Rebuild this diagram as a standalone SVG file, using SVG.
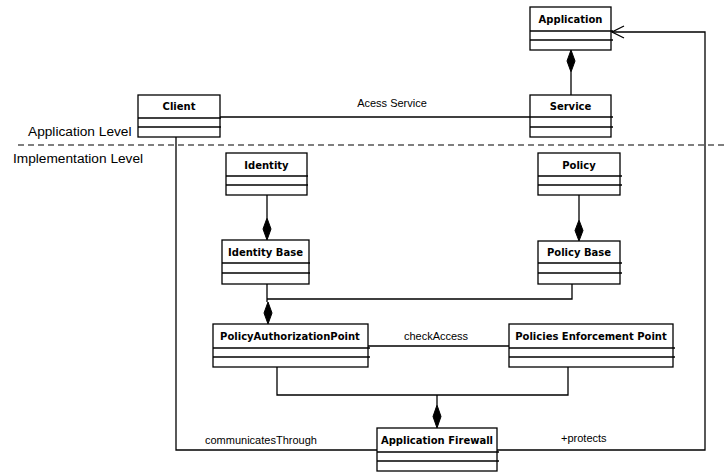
<svg xmlns="http://www.w3.org/2000/svg" width="728" height="472" viewBox="0 0 728 472">
<style>
.box{fill:#fff;stroke:#000;stroke-width:1.3}
.cl{stroke:#000;stroke-width:1.3}
.hd{font-family:"DejaVu Sans",Verdana,sans-serif;font-weight:bold;font-size:10px;text-anchor:middle;fill:#000}
.lb{font-family:"Liberation Sans",Arial,sans-serif;font-size:11px;fill:#000}
.lv{font-family:"Liberation Sans",Arial,sans-serif;font-size:13.7px;fill:#000}
.ln{fill:none;stroke:#000;stroke-width:1.3}
.dm{fill:#000;stroke:#000;stroke-width:1}
</style>
<rect width="728" height="472" fill="#fff"/>
<g id="levels">
<line x1="18" y1="145" x2="728" y2="145" stroke="#000" stroke-width="1.2" stroke-dasharray="6,4"/>
<text class="lv" x="28" y="136">Application Level</text>
<text class="lv" x="13" y="163">Implementation Level</text>
</g>
<g id="connectors">
<polyline class="ln" points="571,72 571,95"/>
<polygon class="dm" points="571,50 575,61 571,72 567,61"/>
<polyline class="ln" points="220,117 530,117"/>
<text class="lb" x="392" y="107" text-anchor="middle">Acess Service</text>
<polyline class="ln" points="267,195 267,218"/>
<polygon class="dm" points="267,218 271,229 267,240 263,229"/>
<polyline class="ln" points="579,195 579,220"/>
<polygon class="dm" points="579,220 583,230.5 579,241 575,230.5"/>
<polyline class="ln" points="267,284 267,302"/>
<polyline class="ln" points="267,299 572,299 572,284"/>
<polygon class="dm" points="268,302 272,313 268,324 264,313"/>
<polyline class="ln" points="368,346 509,346"/>
<text class="lb" x="436" y="340" text-anchor="middle">checkAccess</text>
<polyline class="ln" points="277,367 277,395 568,395 568,367"/>
<polyline class="ln" points="437,395 437,405"/>
<polygon class="dm" points="437,405 441,416.5 437,428 433,416.5"/>
<polyline class="ln" points="176,137 176,450 377,450"/>
<text class="lb" x="205" y="444">communicatesThrough</text>
<polyline class="ln" points="497,450 705,450 705,32 612,32"/>
<polyline class="ln" points="624,26 612,32 624,38"/>
<text class="lb" x="561" y="442">+protects</text>
</g>
<g id="application">
<rect class="box" x="530" y="7" width="81" height="43"/>
<line class="cl" x1="530" y1="31" x2="613" y2="31"/>
<line class="cl" x1="530" y1="40" x2="613" y2="40"/>
<text class="hd" x="570.5" y="23">Application</text>
</g>
<g id="service">
<rect class="box" x="530" y="95" width="81" height="42"/>
<line class="cl" x1="530" y1="117" x2="613" y2="117"/>
<line class="cl" x1="530" y1="127" x2="613" y2="127"/>
<text class="hd" x="570.5" y="110">Service</text>
</g>
<g id="client">
<rect class="box" x="138" y="95" width="82" height="42"/>
<line class="cl" x1="138" y1="118" x2="221" y2="118"/>
<line class="cl" x1="138" y1="127" x2="221" y2="127"/>
<text class="hd" x="179" y="110">Client</text>
</g>
<g id="identity">
<rect class="box" x="226" y="153" width="81" height="42"/>
<line class="cl" x1="226" y1="176" x2="308" y2="176"/>
<line class="cl" x1="226" y1="185" x2="308" y2="185"/>
<text class="hd" x="266.5" y="169">Identity</text>
</g>
<g id="identity-base">
<rect class="box" x="222" y="240" width="87" height="44"/>
<line class="cl" x1="222" y1="263" x2="310" y2="263"/>
<line class="cl" x1="222" y1="273" x2="310" y2="273"/>
<text class="hd" x="265.5" y="256">Identity Base</text>
</g>
<g id="policy">
<rect class="box" x="538" y="153" width="82" height="42"/>
<line class="cl" x1="538" y1="176" x2="622" y2="176"/>
<line class="cl" x1="538" y1="185" x2="622" y2="185"/>
<text class="hd" x="579" y="169">Policy</text>
</g>
<g id="policy-base">
<rect class="box" x="538" y="241" width="82" height="43"/>
<line class="cl" x1="538" y1="263" x2="622" y2="263"/>
<line class="cl" x1="538" y1="273" x2="622" y2="273"/>
<text class="hd" x="579" y="256">Policy Base</text>
</g>
<g id="pap">
<rect class="box" x="213" y="324" width="155" height="43"/>
<line class="cl" x1="213" y1="348" x2="370" y2="348"/>
<line class="cl" x1="213" y1="357" x2="370" y2="357"/>
<text class="hd" x="290" y="340">PolicyAuthorizationPoint</text>
</g>
<g id="pep">
<rect class="box" x="509" y="324" width="164" height="43"/>
<line class="cl" x1="509" y1="348" x2="675" y2="348"/>
<line class="cl" x1="509" y1="357" x2="675" y2="357"/>
<text class="hd" x="591" y="340">Policies Enforcement Point</text>
</g>
<g id="application-firewall">
<rect class="box" x="377" y="428" width="120" height="43"/>
<line class="cl" x1="377" y1="452" x2="499" y2="452"/>
<line class="cl" x1="377" y1="461" x2="499" y2="461"/>
<text class="hd" x="437" y="444">Application Firewall</text>
</g>
</svg>
